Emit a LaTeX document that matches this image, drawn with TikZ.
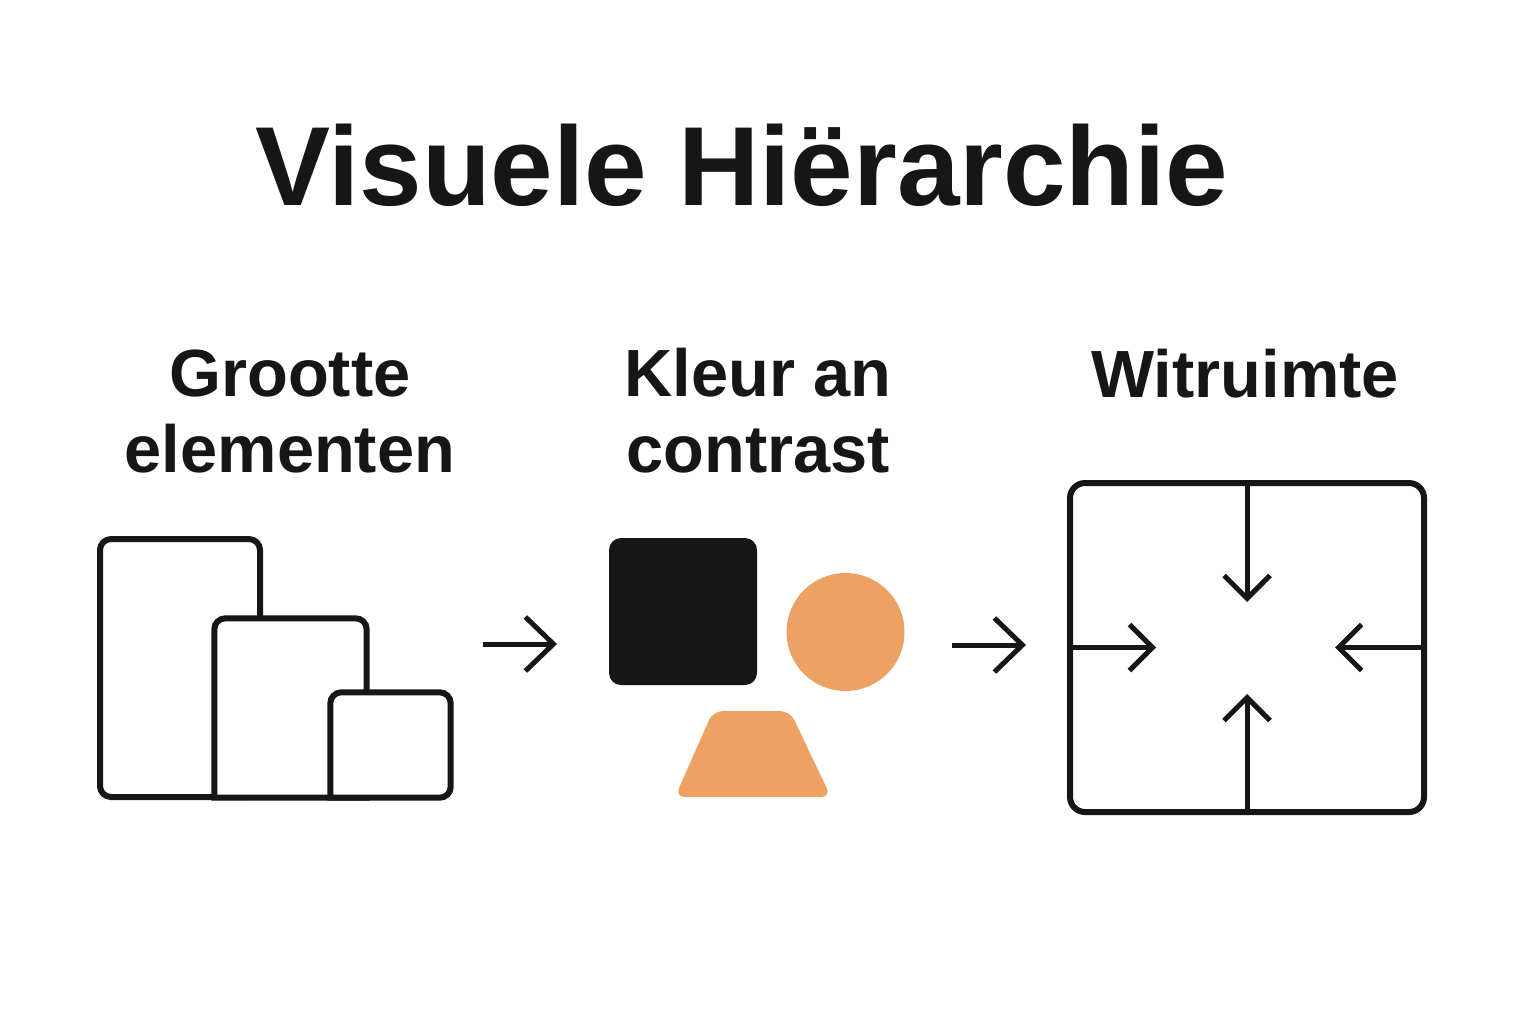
\documentclass[tikz,border=0pt]{standalone}
\usepackage{fontspec}
\setmainfont{Liberation Sans}
\usepackage{xcolor}
\usetikzlibrary{arrows.meta,positioning}
\definecolor{inkdark}{RGB}{22,22,22}
\definecolor{softorange}{RGB}{237,161,98}

\begin{document}
\begin{tikzpicture}[
    frame/.style={draw=inkdark, fill=white, line width=0.06cm, rounded corners=0.11cm, inner sep=0pt},
    cover/.style={fill=white, inner sep=0pt},
    outline/.style={draw=inkdark, line width=0.06cm},
    label/.style={font=\fontsize{19}{21.6}\selectfont\bfseries, text=inkdark, align=center, anchor=base},
    flow/.style={-{Straight Barb[length=0.28cm, width=0.54cm, sharp]}, line width=0.05cm, draw=inkdark},
    inward/.style={-{Straight Barb[length=0.23cm, width=0.46cm, sharp]}, line width=0.05cm, draw=inkdark}
]
    \useasboundingbox (0,0) rectangle (15.36,-10.24);

    \node[font=\fontsize{32}{38}\selectfont\bfseries, text=inkdark, anchor=base] (title) at (7.42,-2.05) {Visuele Hiërarchie};

    \node[label] (lblsize) at (2.90,-4.72) {Grootte\\elementen};
    \node[label] (lblcolor) at (7.58,-4.72) {Kleur an\\contrast};
    \node[label] (lblspace) at (12.45,-3.97) {Witruimte};

    % grootte
    \node[frame, minimum width=1.60cm, minimum height=2.58cm] (big) at (1.80,-6.68) {};
    \node[cover, minimum width=1.51cm, minimum height=1.78cm] (mid) at (2.905,-7.08) {};
    \draw[outline] (mid.south west) {[rounded corners=0.11cm] -- (mid.north west) -- (mid.north east)} -- (mid.south east) -- cycle;
    \node[cover, minimum width=1.19cm, minimum height=1.04cm] (small) at (3.905,-7.45) {};
    \draw[outline] (small.south west) {[rounded corners=0.11cm] -- (small.north west) -- (small.north east) -- (small.south east)} -- cycle;

    % kleur en contrast
    \node[fill=inkdark, rounded corners=0.12cm, minimum width=1.48cm, minimum height=1.47cm, inner sep=0pt] (square) at (6.83,-6.115) {};
    \node[circle, fill=softorange, minimum size=1.18cm, inner sep=0pt] (dot) at (8.455,-6.32) {};
    \fill[softorange, rounded corners=0.1cm] (7.13,-7.11) -- (7.90,-7.11) -- (8.31,-7.97) -- (6.75,-7.97) -- cycle;

    % witruimte
    \node[frame, rounded corners=0.15cm, minimum width=3.54cm, minimum height=3.29cm] (space) at (12.47,-6.475) {};
    \coordinate (tipN) at (12.47,-6.02);
    \coordinate (tipS) at (12.47,-6.94);
    \coordinate (tipW) at (11.56,-6.475);
    \coordinate (tipE) at (13.35,-6.475);
    \draw[inward] (space.north) -- (tipN);
    \draw[inward] (space.south) -- (tipS);
    \draw[inward] (space.west) -- (tipW);
    \draw[inward] (space.east) -- (tipE);

    \coordinate (flowAin) at (4.83,-6.44);
    \coordinate (flowAout) at (5.57,-6.44);
    \coordinate (flowBin) at (9.52,-6.45);
    \coordinate (flowBout) at (10.26,-6.45);
    \draw[flow] (flowAin) -- (flowAout);
    \draw[flow] (flowBin) -- (flowBout);
\end{tikzpicture}
\end{document}
